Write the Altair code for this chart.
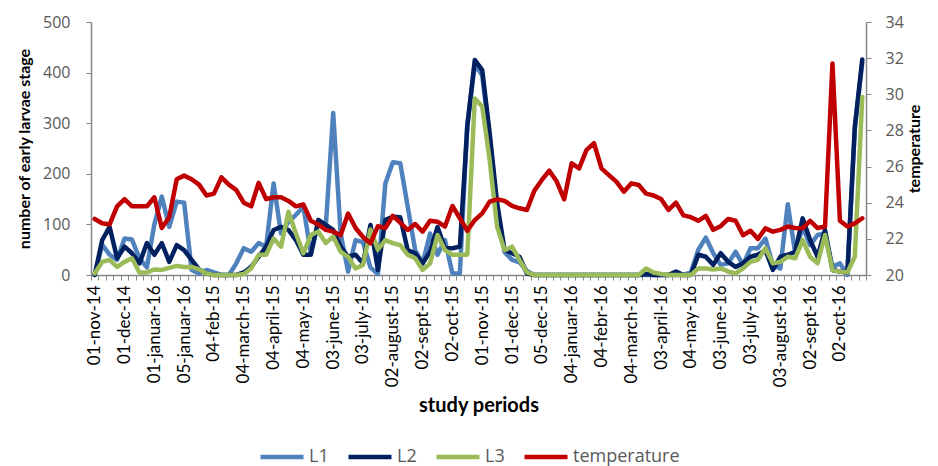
import altair as alt
import pandas as pd

# ---- data ----
tick_labels = ["01-nov-14", "01-dec-14", "01-januar-16", "05-januar-16", "04-feb-15",
               "04-march-15", "04-april-15", "04-may-15", "03-june-15", "03-july-15",
               "02-august-15", "02-sept-15", "02-oct-15", "01-nov-15", "01-dec-15",
               "05-dec-15", "04-januar-16", "04-febr-16", "04-march-16", "03-april-16",
               "04-may-16", "03-june-16", "03-july-16", "03-august-16", "02-sept-16",
               "02-oct-16"]

L1 = [0, 60, 40, 30, 72, 70, 33, 15, 100, 155, 95, 145, 143, 10, 3, 10, 5, 0, 0, 23,
      53, 46, 63, 56, 181, 82, 105, 119, 135, 43, 102, 95, 320, 82, 7, 69, 65, 15, 2, 181,
      223, 221, 135, 49, 23, 82, 40, 69, 3, 3, 300, 415, 395, 270, 130, 45, 30, 25, 8,
      0, 0, 0, 0, 0, 0, 0, 0, 0, 0, 0, 0, 0, 0, 0, 0, 0, 0, 0, 0, 0,
      5, 50, 74, 43, 20, 23, 46, 20, 53, 53, 72, 20, 13, 140, 43, 95, 59, 79, 82, 16,
      23, 0, 290, 420]

L2 = [0, 69, 95, 33, 56, 43, 23, 63, 40, 63, 26, 59, 49, 30, 11, 3, 0, 0, 0, 0,
      5, 16, 36, 56, 89, 95, 89, 69, 40, 40, 109, 99, 89, 56, 36, 40, 23, 99, 10, 109,
      115, 114, 49, 43, 23, 46, 95, 53, 53, 56, 293, 425, 405, 280, 142, 49, 43, 36, 3,
      0, 0, 0, 0, 0, 0, 0, 0, 0, 0, 0, 0, 0, 0, 0,
      2, 0, 0, 0, 7, 0, 0,
      40, 36, 20, 43, 26, 16, 23, 36, 40, 49, 10, 36, 40, 46, 112, 69, 36, 89, 10, 7,
      5, 293, 426]

L3 = [3, 26, 30, 16, 26, 33, 5, 5, 11, 10, 14, 18, 16, 16, 11, 3, 0, 0, 0, 0,
      2, 13, 40, 40, 72, 56, 125, 82, 43, 79, 86, 63, 76, 46, 36, 13, 20, 90, 50, 69,
      63, 59, 40, 33, 10, 23, 79, 49, 40, 40, 40, 349, 333, 227, 95, 49, 56, 30, 5,
      0, 0, 0, 0, 0, 0, 0, 0, 0, 0, 0, 0, 0, 0, 0,
      13, 5, 2, 0, 0, 0, 0,
      13, 13, 11, 13, 7, 3, 13, 26, 30, 53, 23, 26, 36, 33, 69, 36, 23, 79, 10, 7,
      5, 36, 352]

temperature = [23.1, 22.86, 22.8, 23.8, 24.2, 23.8, 23.8, 23.8, 24.3, 22.6,
               23.2, 25.3, 25.5, 25.3, 25.0, 24.4, 24.5, 25.4, 25.0, 24.7,
               24.0, 23.8, 25.1, 24.2, 24.3, 24.3, 24.1, 23.8, 23.9, 23.0,
               22.8, 22.5, 22.4, 22.2, 23.4, 22.6, 22.1, 21.75, 22.7, 22.6,
               23.27, 22.9, 22.49, 22.82, 22.4, 23.0, 22.95, 22.68, 23.82, 23.14,
               22.45, 23.04, 23.41, 24.06, 24.19, 24.1, 23.82, 23.69, 23.6, 24.67,
               25.26, 25.77, 25.17, 24.19, 26.18, 25.9, 26.92, 27.29, 25.9, 25.53,
               25.17, 24.61, 25.07, 24.98, 24.5, 24.4, 24.2, 23.6, 24.0, 23.3,
               23.2, 23.0, 23.27, 22.5, 22.7, 23.1, 23.0, 22.2, 22.45, 22.0,
               22.58, 22.4, 22.5, 22.68, 22.6, 22.58, 23.0, 22.6, 22.68, 31.7,
               23.0, 22.68, 22.86, 23.14]

series_names = ["L1", "L2", "L3", "temperature"]
series_colors = ["#4F81BD", "#002060", "#9BBB59", "#C00000"]

N = len(temperature)
df = pd.DataFrame({
    "i": [k + 0.5 for k in range(N)],
    "L1": L1, "L2": L2, "L3": L3, "temperature": temperature,
})

GRAY = "#868686"
LABEL = "#595959"

label_array = "[" + ",".join("'" + t + "'" for t in tick_labels) + "]"
label_expr = ("(datum.value % 4 == 0 && datum.value <= " + str(4 * (len(tick_labels) - 1)) +
              ") ? " + label_array + "[datum.value / 4] : ''")

x_enc = alt.X(
    "i:Q",
    scale=alt.Scale(domain=[0, N], nice=False, zero=False),
    axis=alt.Axis(
        values=list(range(0, N + 1)),
        labelExpr=label_expr,
        labelAngle=270,
        labelAlign="right",
        labelBaseline="middle",
        labelOffset=3.7,
        labelPadding=5,
        labelOverlap=False,
        labelFlush=False,
        labelBound=False,
        labelFont="Lato",
        labelFontSize=17,
        labelColor="#000000",
        tickSize=5,
        tickColor=GRAY,
        domainColor=GRAY,
        domainWidth=1.5,
        grid=False,
        title="study periods",
        titleFont="Lato",
        titleFontSize=20,
        titleFontWeight="bold",
        titlePadding=9,
    ),
)

color_scale = alt.Scale(domain=series_names, range=series_colors)
legend = alt.Legend(
    title=None,
    orient="none",
    direction="horizontal",
    legendX=167,
    legendY=411,
    symbolType="stroke",
    symbolSize=1849,
    symbolStrokeWidth=4.5,
    labelFont="Open Sans",
    labelFontSize=18,
    labelColor=LABEL,
    labelOffset=3,
    columnPadding=10,
)

larvae = alt.Chart(df).transform_fold(
    ["L1", "L2", "L3"], as_=["series", "value"]
).mark_line(strokeWidth=4.5, strokeJoin="round", strokeCap="round").encode(
    x=x_enc,
    y=alt.Y(
        "value:Q",
        scale=alt.Scale(domain=[0, 500], nice=False),
        axis=alt.Axis(
            values=[0, 100, 200, 300, 400, 500],
            grid=False,
            tickSize=5,
            tickColor=GRAY,
            domainColor=GRAY,
            domainWidth=1.5,
            labelFont="Open Sans",
            labelFontSize=16,
            labelColor=LABEL,
            labelPadding=16,
            title="number of early larvae stage",
            titleFont="Lato",
            titleFontSize=16,
            titleFontWeight="bold",
            titlePadding=10,
        ),
    ),
    color=alt.Color("series:N", scale=color_scale, legend=legend),
)

temp = alt.Chart(df).transform_calculate(
    series="'temperature'"
).mark_line(strokeWidth=4.5, strokeJoin="round", strokeCap="round").encode(
    x=x_enc,
    y=alt.Y(
        "temperature:Q",
        scale=alt.Scale(domain=[20, 34], nice=False, zero=False),
        axis=alt.Axis(
            orient="right",
            values=[20, 22, 24, 26, 28, 30, 32, 34],
            grid=False,
            tickSize=5,
            tickColor=GRAY,
            domainColor=GRAY,
            domainWidth=1.5,
            labelFont="Open Sans",
            labelFontSize=16,
            labelColor=LABEL,
            labelPadding=14,
            title="temperature",
            titleAngle=270,
            titleBaseline="top",
            titleFont="Lato",
            titleFontSize=16,
            titleFontWeight="bold",
            titlePadding=3,
        ),
    ),
    color=alt.Color("series:N", scale=color_scale, legend=legend),
)

chart = alt.layer(larvae, temp).resolve_scale(y="independent").properties(
    width=775,
    height=253,
    autosize=alt.AutoSizeParams(type="none"),
    padding={"left": 83, "top": 14, "right": 64, "bottom": 200},
    background="white",
).configure_view(stroke=None)

chart.save("out.html", embed_options={"renderer": "svg", "actions": False})
